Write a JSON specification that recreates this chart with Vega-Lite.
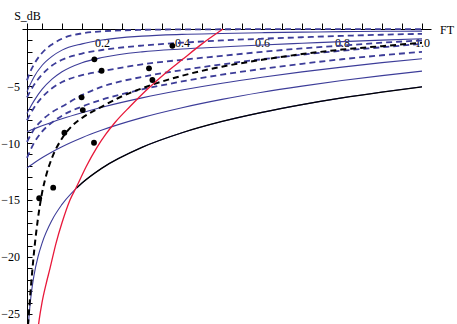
{
  "$schema": "https://vega.github.io/schema/vega-lite/v6.json",
  "width": 409,
  "height": 301,
  "autosize": {"type": "none"},
  "padding": {"left": 22, "top": 23, "right": 26, "bottom": 0},
  "background": "white",
  "config": {"view": {"stroke": null}, "font": "Liberation Serif, Times New Roman, serif"},
  "datasets": {
    "curves": [
      {"c":"S1","x":0.0125,"y":-5.5},{"c":"S1","x":0.02,"y":-4.9},{"c":"S1","x":0.03,"y":-4.2},{"c":"S1","x":0.05,"y":-3.2},{"c":"S1","x":0.075,"y":-2.4},{"c":"S1","x":0.1,"y":-1.85},{"c":"S1","x":0.15,"y":-1.3},{"c":"S1","x":0.2,"y":-0.96},{"c":"S1","x":0.3,"y":-0.62},{"c":"S1","x":0.4,"y":-0.47},{"c":"S1","x":0.5,"y":-0.39},{"c":"S1","x":0.6,"y":-0.32},{"c":"S1","x":0.7,"y":-0.27},{"c":"S1","x":0.8,"y":-0.23},{"c":"S1","x":0.9,"y":-0.2},{"c":"S1","x":1.0,"y":-0.18},
      {"c":"S2","x":0.0125,"y":-7.4},{"c":"S2","x":0.02,"y":-6.9},{"c":"S2","x":0.03,"y":-6.3},{"c":"S2","x":0.05,"y":-5.3},{"c":"S2","x":0.075,"y":-4.4},{"c":"S2","x":0.1,"y":-3.75},{"c":"S2","x":0.15,"y":-2.95},{"c":"S2","x":0.2,"y":-2.5},{"c":"S2","x":0.3,"y":-2.0},{"c":"S2","x":0.4,"y":-1.75},{"c":"S2","x":0.5,"y":-1.57},{"c":"S2","x":0.6,"y":-1.4},{"c":"S2","x":0.7,"y":-1.25},{"c":"S2","x":0.8,"y":-1.1},{"c":"S2","x":0.9,"y":-0.97},{"c":"S2","x":1.0,"y":-0.85},
      {"c":"S3","x":0.0125,"y":-9.01},{"c":"S3","x":0.02,"y":-8.9},{"c":"S3","x":0.03,"y":-8.76},{"c":"S3","x":0.05,"y":-8.49},{"c":"S3","x":0.075,"y":-8.17},{"c":"S3","x":0.1,"y":-7.87},{"c":"S3","x":0.15,"y":-7.34},{"c":"S3","x":0.2,"y":-6.86},{"c":"S3","x":0.3,"y":-6.04},{"c":"S3","x":0.4,"y":-5.35},{"c":"S3","x":0.5,"y":-4.75},{"c":"S3","x":0.6,"y":-4.23},{"c":"S3","x":0.7,"y":-3.76},{"c":"S3","x":0.8,"y":-3.34},{"c":"S3","x":0.9,"y":-2.95},{"c":"S3","x":1.0,"y":-2.6},
      {"c":"S4","x":0.0125,"y":-12.19},{"c":"S4","x":0.02,"y":-12.0},{"c":"S4","x":0.03,"y":-11.75},{"c":"S4","x":0.05,"y":-11.29},{"c":"S4","x":0.075,"y":-10.78},{"c":"S4","x":0.1,"y":-10.32},{"c":"S4","x":0.15,"y":-9.53},{"c":"S4","x":0.2,"y":-8.86},{"c":"S4","x":0.3,"y":-7.77},{"c":"S4","x":0.4,"y":-6.9},{"c":"S4","x":0.5,"y":-6.17},{"c":"S4","x":0.6,"y":-5.55},{"c":"S4","x":0.7,"y":-5.01},{"c":"S4","x":0.8,"y":-4.52},{"c":"S4","x":0.9,"y":-4.09},{"c":"S4","x":1.0,"y":-3.69},
      {"c":"S0","x":0.016,"y":-26.0},{"c":"S0","x":0.0175,"y":-25.25},{"c":"S0","x":0.02,"y":-24.24},{"c":"S0","x":0.025,"y":-22.73},{"c":"S0","x":0.03,"y":-21.61},{"c":"S0","x":0.04,"y":-19.98},{"c":"S0","x":0.05,"y":-18.8},{"c":"S0","x":0.075,"y":-16.77},{"c":"S0","x":0.1,"y":-15.39},{"c":"S0","x":0.15,"y":-13.51},{"c":"S0","x":0.2,"y":-12.2},{"c":"S0","x":0.3,"y":-10.38},{"c":"S0","x":0.4,"y":-9.1},{"c":"S0","x":0.5,"y":-8.11},{"c":"S0","x":0.6,"y":-7.31},{"c":"S0","x":0.7,"y":-6.63},{"c":"S0","x":0.8,"y":-6.04},{"c":"S0","x":0.9,"y":-5.53},{"c":"S0","x":1.0,"y":-5.07},
      {"c":"K","x":0.137,"y":-13.92},{"c":"K","x":0.15,"y":-13.51},{"c":"K","x":0.2,"y":-12.2},{"c":"K","x":0.3,"y":-10.38},{"c":"K","x":0.4,"y":-9.1},{"c":"K","x":0.5,"y":-8.11},{"c":"K","x":0.6,"y":-7.31},{"c":"K","x":0.7,"y":-6.63},{"c":"K","x":0.8,"y":-6.04},{"c":"K","x":0.9,"y":-5.53},{"c":"K","x":1.0,"y":-5.07},
      {"c":"D1","x":0.0125,"y":-4.5},{"c":"D1","x":0.02,"y":-3.8},{"c":"D1","x":0.03,"y":-3.1},{"c":"D1","x":0.05,"y":-2.1},{"c":"D1","x":0.075,"y":-1.35},{"c":"D1","x":0.1,"y":-0.85},{"c":"D1","x":0.15,"y":-0.38},{"c":"D1","x":0.2,"y":-0.2},{"c":"D1","x":0.3,"y":-0.07},{"c":"D1","x":0.4,"y":-0.03},{"c":"D1","x":0.5,"y":-0.02},{"c":"D1","x":0.6,"y":-0.01},{"c":"D1","x":0.7,"y":-0.005},{"c":"D1","x":0.8,"y":0},{"c":"D1","x":0.9,"y":0},{"c":"D1","x":1.0,"y":0},
      {"c":"D2","x":0.0125,"y":-6.0},{"c":"D2","x":0.02,"y":-5.5},{"c":"D2","x":0.03,"y":-4.9},{"c":"D2","x":0.05,"y":-4.0},{"c":"D2","x":0.075,"y":-3.2},{"c":"D2","x":0.1,"y":-2.7},{"c":"D2","x":0.15,"y":-2.15},{"c":"D2","x":0.2,"y":-1.84},{"c":"D2","x":0.3,"y":-1.45},{"c":"D2","x":0.4,"y":-1.2},{"c":"D2","x":0.5,"y":-1.0},{"c":"D2","x":0.6,"y":-0.85},{"c":"D2","x":0.7,"y":-0.72},{"c":"D2","x":0.8,"y":-0.6},{"c":"D2","x":0.9,"y":-0.5},{"c":"D2","x":1.0,"y":-0.42},
      {"c":"D3","x":0.0125,"y":-8.0},{"c":"D3","x":0.02,"y":-7.5},{"c":"D3","x":0.03,"y":-6.9},{"c":"D3","x":0.05,"y":-6.0},{"c":"D3","x":0.075,"y":-5.2},{"c":"D3","x":0.1,"y":-4.65},{"c":"D3","x":0.15,"y":-4.05},{"c":"D3","x":0.2,"y":-3.7},{"c":"D3","x":0.3,"y":-3.1},{"c":"D3","x":0.4,"y":-2.7},{"c":"D3","x":0.5,"y":-2.35},{"c":"D3","x":0.6,"y":-2.0},{"c":"D3","x":0.7,"y":-1.7},{"c":"D3","x":0.8,"y":-1.45},{"c":"D3","x":0.9,"y":-1.2},{"c":"D3","x":1.0,"y":-1.0},
      {"c":"D4","x":0.0125,"y":-9.9},{"c":"D4","x":0.02,"y":-9.4},{"c":"D4","x":0.03,"y":-8.8},{"c":"D4","x":0.05,"y":-8.0},{"c":"D4","x":0.075,"y":-7.3},{"c":"D4","x":0.1,"y":-6.8},{"c":"D4","x":0.15,"y":-5.8},{"c":"D4","x":0.2,"y":-5.06},{"c":"D4","x":0.3,"y":-4.2},{"c":"D4","x":0.4,"y":-3.6},{"c":"D4","x":0.5,"y":-3.1},{"c":"D4","x":0.6,"y":-2.65},{"c":"D4","x":0.7,"y":-2.25},{"c":"D4","x":0.8,"y":-1.9},{"c":"D4","x":0.9,"y":-1.6},{"c":"D4","x":1.0,"y":-1.3},
      {"c":"D5","x":0.0125,"y":-11.3},{"c":"D5","x":0.02,"y":-10.7},{"c":"D5","x":0.03,"y":-10.0},{"c":"D5","x":0.05,"y":-9.0},{"c":"D5","x":0.075,"y":-8.2},{"c":"D5","x":0.1,"y":-7.6},{"c":"D5","x":0.15,"y":-6.8},{"c":"D5","x":0.2,"y":-6.2},{"c":"D5","x":0.3,"y":-5.3},{"c":"D5","x":0.4,"y":-4.6},{"c":"D5","x":0.5,"y":-4.0},{"c":"D5","x":0.6,"y":-3.5},{"c":"D5","x":0.7,"y":-3.05},{"c":"D5","x":0.8,"y":-2.65},{"c":"D5","x":0.9,"y":-2.3},{"c":"D5","x":1.0,"y":-2.0},
      {"c":"KD","x":0.015,"y":-26.0},{"c":"KD","x":0.02,"y":-23.6},{"c":"KD","x":0.025,"y":-21.5},{"c":"KD","x":0.03,"y":-19.6},{"c":"KD","x":0.04,"y":-16.6},{"c":"KD","x":0.05,"y":-14.4},{"c":"KD","x":0.06,"y":-12.9},{"c":"KD","x":0.075,"y":-11.3},{"c":"KD","x":0.1,"y":-9.6},{"c":"KD","x":0.125,"y":-8.5},{"c":"KD","x":0.15,"y":-7.8},{"c":"KD","x":0.2,"y":-6.8},{"c":"KD","x":0.25,"y":-5.9},{"c":"KD","x":0.3,"y":-5.2},{"c":"KD","x":0.4,"y":-4.1},{"c":"KD","x":0.5,"y":-3.3},{"c":"KD","x":0.6,"y":-2.7},{"c":"KD","x":0.7,"y":-2.2},{"c":"KD","x":0.8,"y":-1.8},{"c":"KD","x":0.9,"y":-1.5},{"c":"KD","x":1.0,"y":-1.2},
      {"c":"R","x":0.04,"y":-26.3},{"c":"R","x":0.043,"y":-25.5},{"c":"R","x":0.05,"y":-24.0},{"c":"R","x":0.06,"y":-22.4},{"c":"R","x":0.07,"y":-21.0},{"c":"R","x":0.085,"y":-18.8},{"c":"R","x":0.1,"y":-17.0},{"c":"R","x":0.12,"y":-15.0},{"c":"R","x":0.137,"y":-13.8},{"c":"R","x":0.16,"y":-12.1},{"c":"R","x":0.187,"y":-10.4},{"c":"R","x":0.21,"y":-9.2},{"c":"R","x":0.2325,"y":-8.2},{"c":"R","x":0.27,"y":-6.8},{"c":"R","x":0.31,"y":-5.4},{"c":"R","x":0.3575,"y":-3.9},{"c":"R","x":0.4,"y":-2.7},{"c":"R","x":0.45,"y":-1.3},{"c":"R","x":0.5025,"y":0}
    ],
    "dots": [
      {"x":0.043,"y":-14.85},{"x":0.078,"y":-13.92},{"x":0.106,"y":-9.09},{"x":0.149,"y":-5.99},{"x":0.152,"y":-7.11},{"x":0.18,"y":-9.98},{"x":0.181,"y":-2.66},{"x":0.199,"y":-3.66},{"x":0.3175,"y":-3.45},{"x":0.326,"y":-4.47},{"x":0.376,"y":-1.47}
    ]
  },
  "encoding": {
    "x": {
      "field": "x", "type": "quantitative",
      "scale": {"domain": [0, 1.0225], "nice": false, "zero": false},
      "axis": {
        "orient": "top", "offset": -6,
        "values": [0.05,0.1,0.15,0.2,0.25,0.3,0.35,0.4,0.45,0.5,0.55,0.6,0.65,0.7,0.75,0.8,0.85,0.9,0.95,1.0],
        "labelExpr": "abs(datum.value*5 - round(datum.value*5)) < 0.001 ? format(datum.value, '.1f') : ''",
        "tickSize": 6, "tickColor": "#000", "tickWidth": 1,
        "domainColor": "#000", "domainWidth": 1, "grid": false,
        "labelBaseline": "middle", "labelPadding": -19, "labelFont": "Liberation Serif, Times New Roman, serif", "labelFontSize": 12, "labelColor": "#000",
        "labelFlush": false, "labelOverlap": false,
        "title": "FT", "titleX": 424.5, "titleY": 0, "titleAngle": 0, "titleAlign": "center", "titleBaseline": "middle",
        "titleFont": "Liberation Serif, Times New Roman, serif", "titleFontSize": 12, "titleFontWeight": "normal", "titleColor": "#000"
      }
    },
    "y": {
      "field": "y", "type": "quantitative",
      "scale": {"domain": [-25.88, 0.53], "nice": false, "zero": false},
      "axis": {
        "orient": "left", "offset": -5,
        "values": [-25,-24,-23,-22,-21,-20,-19,-18,-17,-16,-15,-14,-13,-12,-11,-10,-9,-8,-7,-6,-5,-4,-3,-2,-1],
        "labelExpr": "datum.value % 5 == 0 ? format(datum.value, 'd') : ''",
        "tickSize": -5, "tickColor": "#000", "tickWidth": 1,
        "domainColor": "#000", "domainWidth": 1, "grid": false,
        "labelAlign": "right", "labelBaseline": "middle", "labelPadding": 12.5,
        "labelFont": "Liberation Serif, Times New Roman, serif", "labelFontSize": 12, "labelColor": "#000",
        "labelFlush": false, "labelOverlap": false,
        "title": "S_dB", "titleX": 0, "titleY": -8, "titleAngle": 0, "titleAlign": "center", "titleBaseline": "middle",
        "titleFont": "Liberation Serif, Times New Roman, serif", "titleFontSize": 12, "titleFontWeight": "normal", "titleColor": "#000"
      }
    }
  },
  "layer": [
    {
      "data": {"name": "curves"},
      "transform": [{"filter": {"field": "c", "oneOf": ["S0","S1","S2","S3","S4"]}}],
      "mark": {"type": "line", "color": "#3D3D99", "strokeWidth": 1.1, "interpolate": "monotone", "clip": true},
      "encoding": {"detail": {"field": "c"}}
    },
    {
      "data": {"name": "curves"},
      "transform": [{"filter": {"field": "c", "oneOf": ["D1","D2","D3","D4","D5"]}}],
      "mark": {"type": "line", "color": "#3D3D99", "strokeWidth": 1.8, "strokeDash": [6, 4], "interpolate": "monotone", "clip": true},
      "encoding": {"detail": {"field": "c"}}
    },
    {
      "data": {"name": "curves"},
      "transform": [{"filter": {"field": "c", "equal": "K"}}],
      "mark": {"type": "line", "color": "#000000", "strokeWidth": 1.3, "interpolate": "monotone", "clip": true},
      "encoding": {}
    },
    {
      "data": {"name": "curves"},
      "transform": [{"filter": {"field": "c", "equal": "KD"}}],
      "mark": {"type": "line", "color": "#000000", "strokeWidth": 2, "strokeDash": [6, 4], "interpolate": "monotone", "clip": true},
      "encoding": {}
    },
    {
      "data": {"name": "curves"},
      "transform": [{"filter": {"field": "c", "equal": "R"}}],
      "mark": {"type": "line", "color": "#E8183A", "strokeWidth": 1.3, "interpolate": "monotone", "clip": true},
      "encoding": {}
    },
    {
      "data": {"name": "dots"},
      "mark": {"type": "circle", "color": "#000000", "size": 34, "opacity": 1},
      "encoding": {}
    }
  ]
}
